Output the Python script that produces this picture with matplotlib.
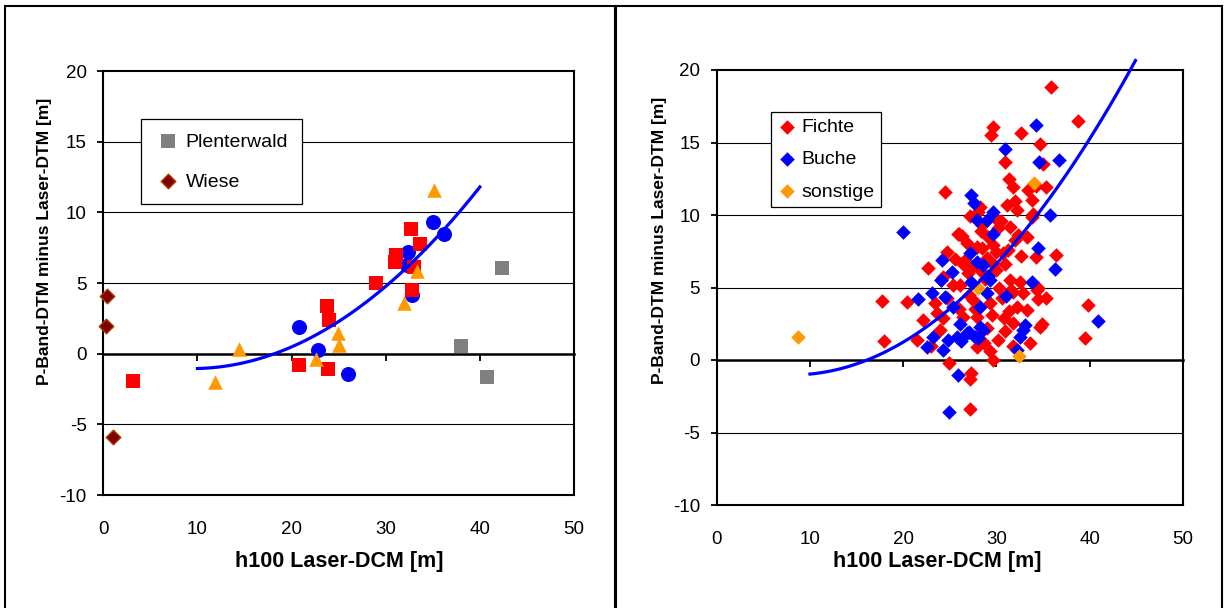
import numpy as np
import matplotlib
matplotlib.use("Agg")
import matplotlib.pyplot as plt
from matplotlib.patches import Rectangle

plt.rcParams['font.family'] = ['Liberation Sans', 'DejaVu Sans']
plt.rcParams['axes.unicode_minus'] = False

# ---- linkes Diagramm ----
l_rot_x = [32.67, 33.65, 31.1, 30.95, 33.0, 28.97, 32.8, 23.75, 23.96, 20.77, 23.85, 3.12]
l_rot_y = [8.84, 7.78, 7.0, 6.5, 6.14, 5.01, 4.54, 3.37, 2.4, -0.79, -1.08, -1.92]
l_blau_x = [34.97, 36.15, 32.4, 32.3, 32.8, 20.82, 22.78, 25.97]
l_blau_y = [9.3, 8.46, 7.22, 6.3, 4.18, 1.88, 0.28, -1.45]
l_orange_x = [35.15, 33.3, 31.95, 24.9, 25.08, 14.42, 22.6, 11.9]
l_orange_y = [11.6, 5.86, 3.58, 1.45, 0.6, 0.35, -0.35, -1.99]
plenter_x = [42.4, 37.98, 40.74]
plenter_y = [6.07, 0.53, -1.64]
wiese_x = [0.43, 0.29, 0.98]
wiese_y = [4.07, 1.95, -5.93]
l_trend = [0.01376, -0.2598, 0.172]   # Polynom 2. Ordnung
l_trend_x = (10, 40)

# ---- rechtes Diagramm ----
fichte_x = [35.8, 38.76, 29.65, 29.4, 32.58, 34.65, 30.9, 24.47, 31.36, 31.79,
            33.4, 35.26, 33.76, 31.08, 28.22, 32.15, 33.76, 30.18, 26.25, 29.11,
            31.97, 33.22, 27.86, 24.65, 26.79, 30.0, 30.72, 34.29, 36.43, 28.93,
            22.68, 24.29, 26.97, 28.22, 31.43, 32.5, 31.54, 31.79, 32.86, 34.47,
            17.7, 20.36, 23.4, 23.57, 22.14, 26.43, 27.5, 29.29, 32.15, 33.22,
            34.65, 31.79, 39.83, 17.9, 21.43, 30.18, 27.86, 29.65, 24.9, 27.3,
            27.2, 39.47, 23.93, 27.15, 34.9, 34.3, 34.5, 28.4, 29.8, 25.6,
            26.1, 27.0, 30.3, 31.2, 33.9, 28.8, 29.6, 25.9, 27.7, 30.6,
            24.3, 32.3, 34.2, 26.6, 29.0, 35.0, 24.0, 30.9, 28.5, 32.0,
            27.2, 28.0, 26.0, 29.6, 28.3, 30.5, 31.5, 27.5, 29.9, 30.9,
            26.4, 25.3, 29.5, 30.8, 31.3, 28.7, 29.3, 23.0, 35.3, 33.6,
            24.7, 26.0, 27.9, 31.8, 32.6]
fichte_y = [18.8, 16.5, 16.09, 15.52, 15.63, 14.9, 13.68, 11.61, 12.46, 11.95,
            11.72, 11.91, 11.03, 10.69, 10.57, 10.34, 9.84, 9.08, 8.55, 8.5,
            8.28, 8.5, 7.82, 7.47, 8.05, 7.47, 7.4, 7.13, 7.24, 7.01,
            6.32, 5.75, 5.98, 6.21, 5.52, 5.4, 4.83, 4.71, 4.6, 4.94,
            4.1, 4.0, 3.91, 3.22, 2.76, 2.99, 4.14, 3.91, 3.68, 3.45,
            2.3, 2.53, 3.79, 1.33, 1.38, 1.38, 0.92, 0.0, -0.18, -0.9,
            -1.3, 1.49, 2.07, -3.4, 2.45, 4.8, 4.2, 9.3, 9.8, 7.0,
            5.2, 4.5, 5.0, 7.6, 10.1, 5.6, 6.6, 8.7, 3.5, 4.3,
            2.9, 8.6, 12.0, 6.9, 2.2, 13.5, 5.5, 2.0, 7.7, 11.0,
            9.9, 10.2, 8.7, 7.9, 8.9, 9.6, 9.2, 6.5, 6.2, 6.6,
            6.6, 5.2, 3.1, 2.9, 3.4, 1.2, 0.6, 1.0, 4.3, 1.2,
            4.3, 3.5, 3.0, 1.0, 7.2]
buche_x = [34.29, 30.9, 34.58, 36.72, 27.32, 29.65, 27.86, 28.93, 35.72, 20.0,
           27.15, 34.47, 24.11, 27.86, 28.58, 25.18, 36.3, 29.29, 27.32, 33.76,
           21.61, 23.04, 24.47, 25.36, 28.22, 28.93, 40.9, 23.22, 22.5, 24.29,
           24.82, 25.72, 26.79, 27.68, 28.22, 28.58, 32.86, 32.5, 32.15, 25.85,
           24.93, 26.2, 27.0, 28.0, 33.1, 29.1, 29.6, 27.6, 24.0, 26.1, 31.0]
buche_y = [16.21, 14.53, 13.68, 13.79, 11.38, 10.23, 9.65, 9.65, 10.0, 8.85,
           7.36, 7.7, 6.9, 6.78, 6.55, 6.09, 6.28, 5.52, 5.4, 5.4,
           4.18, 4.64, 4.37, 3.68, 3.68, 4.6, 2.7, 1.61, 0.92, 0.69,
           1.38, 1.61, 1.84, 1.61, 2.3, 2.07, 2.07, 1.61, 0.69, -1.03,
           -3.61, 1.3, 1.9, 1.5, 2.4, 5.8, 8.7, 10.8, 5.5, 2.5, 4.4]
sonst_x = [8.68, 34.0, 28.04, 32.43]
sonst_y = [1.56, 12.23, 4.94, 0.28]
r_trend = [0.01603, -0.2605, 0.032]
r_trend_x = (10, 44.9)

BLAU = "#0000FF"
ROT = "#FF0000"
ORANGE = "#FF9900"


def achsen(ax, xlab_pos, ylab_pos):
    ax.set_xlim(0, 50)
    ax.set_ylim(-10, 20)
    ax.set_xticks(range(0, 51, 10))
    ax.set_yticks(range(-10, 21, 5))
    for s in ax.spines.values():
        s.set_linewidth(1.5)
        s.set_color("black")
    ax.tick_params(axis="y", direction="out", length=4, width=1.3,
                   labelsize=13.5, pad=8)
    ax.tick_params(axis="x", length=0, labelsize=13.5, pad=19)
    for yv in (-5, 5, 10, 15):
        ax.axhline(yv, color="black", lw=0.8, zorder=0.5)
    # Nulllinie mit Teilstrichen
    sec = ax.secondary_xaxis(1 / 3)
    sec.set_xticks(range(0, 51, 10))
    sec.set_xticklabels([])
    sec.tick_params(direction="out", length=5, width=1.3)
    sec.spines["bottom"].set_linewidth(1.8)
    ax.set_xlabel("h100 Laser-DCM [m]", fontsize=15.5, fontweight="bold")
    ax.set_ylabel("P-Band-DTM minus Laser-DTM [m]", fontsize=12.5,
                  fontweight="bold")
    ax.xaxis.set_label_coords(*xlab_pos)
    ax.xaxis.label.set_va("center")
    ax.yaxis.set_label_coords(*ylab_pos)
    ax.yaxis.label.set_va("center")


fig = plt.figure(figsize=(12.28, 6.08), dpi=100)

# Rahmen der beiden Diagrammflächen
for x0, x1 in ((5, 615), (616, 1222)):
    fig.patches.append(Rectangle((x0 / 1228, -0.02), (x1 - x0) / 1228, 1.02 - 6 / 608,
                                 transform=fig.transFigure, fill=False,
                                 edgecolor="black", lw=1.5))

ax1 = fig.add_axes([103.3 / 1228, 1 - 495 / 608, 470.7 / 1228, 424 / 608])
ax2 = fig.add_axes([716.7 / 1228, 1 - 505 / 608, 466.3 / 1228, 435 / 608])

# links
ax1.scatter(l_rot_x, l_rot_y, marker="s", s=92, color=ROT, lw=0, zorder=3)
ax1.scatter(l_blau_x, l_blau_y, marker="o", s=117, color=BLAU, lw=0, zorder=2)
ax1.scatter(l_orange_x, l_orange_y, marker="^", s=110, color=ORANGE, lw=0, zorder=4)
h_pl = ax1.scatter(plenter_x, plenter_y, marker="s", s=88, color="#808080", lw=0,
                   zorder=3, label="Plenterwald")
h_wi = ax1.scatter(wiese_x, wiese_y, marker="D", s=55, facecolor="#800000",
                   edgecolor="#A83C00", lw=1, zorder=3, label="Wiese",
                   clip_on=False)
xs = np.linspace(*l_trend_x, 100)
ax1.plot(xs, np.polyval(l_trend, xs), color=BLAU, lw=2.3, zorder=5)
achsen(ax1, (0.502, -0.158), (-0.124, 0.598))
leg = ax1.legend(handles=[h_pl, h_wi], loc="upper left", bbox_to_anchor=(0.08, 0.886),
                 fontsize=14, frameon=True, fancybox=False, edgecolor="black",
                 framealpha=1, borderpad=0.7, labelspacing=1.15, handletextpad=0.2,
                 handlelength=1.4, borderaxespad=0)
leg.get_frame().set_linewidth(0.9)

# rechts
ax2.scatter(fichte_x, fichte_y, marker="D", s=55, color=ROT, lw=0, zorder=3,
            label="Fichte")
ax2.scatter(buche_x, buche_y, marker="D", s=55, color=BLAU, lw=0, zorder=3,
            label="Buche")
ax2.scatter(sonst_x, sonst_y, marker="D", s=55, color=ORANGE, lw=0, zorder=4,
            label="sonstige")
xs = np.linspace(*r_trend_x, 100)
ax2.plot(xs, np.polyval(r_trend, xs), color=BLAU, lw=2.3, zorder=5, clip_on=False)
achsen(ax2, (0.472, -0.131), (-0.122, 0.609))
leg = ax2.legend(loc="upper left", bbox_to_anchor=(0.116, 0.904),
                 fontsize=14, frameon=True, fancybox=False, edgecolor="black",
                 framealpha=1, borderpad=0.35, labelspacing=0.75, handletextpad=0.2,
                 handlelength=1.0, borderaxespad=0)
leg.get_frame().set_linewidth(0.9)

fig.savefig("out.png", dpi=100)
